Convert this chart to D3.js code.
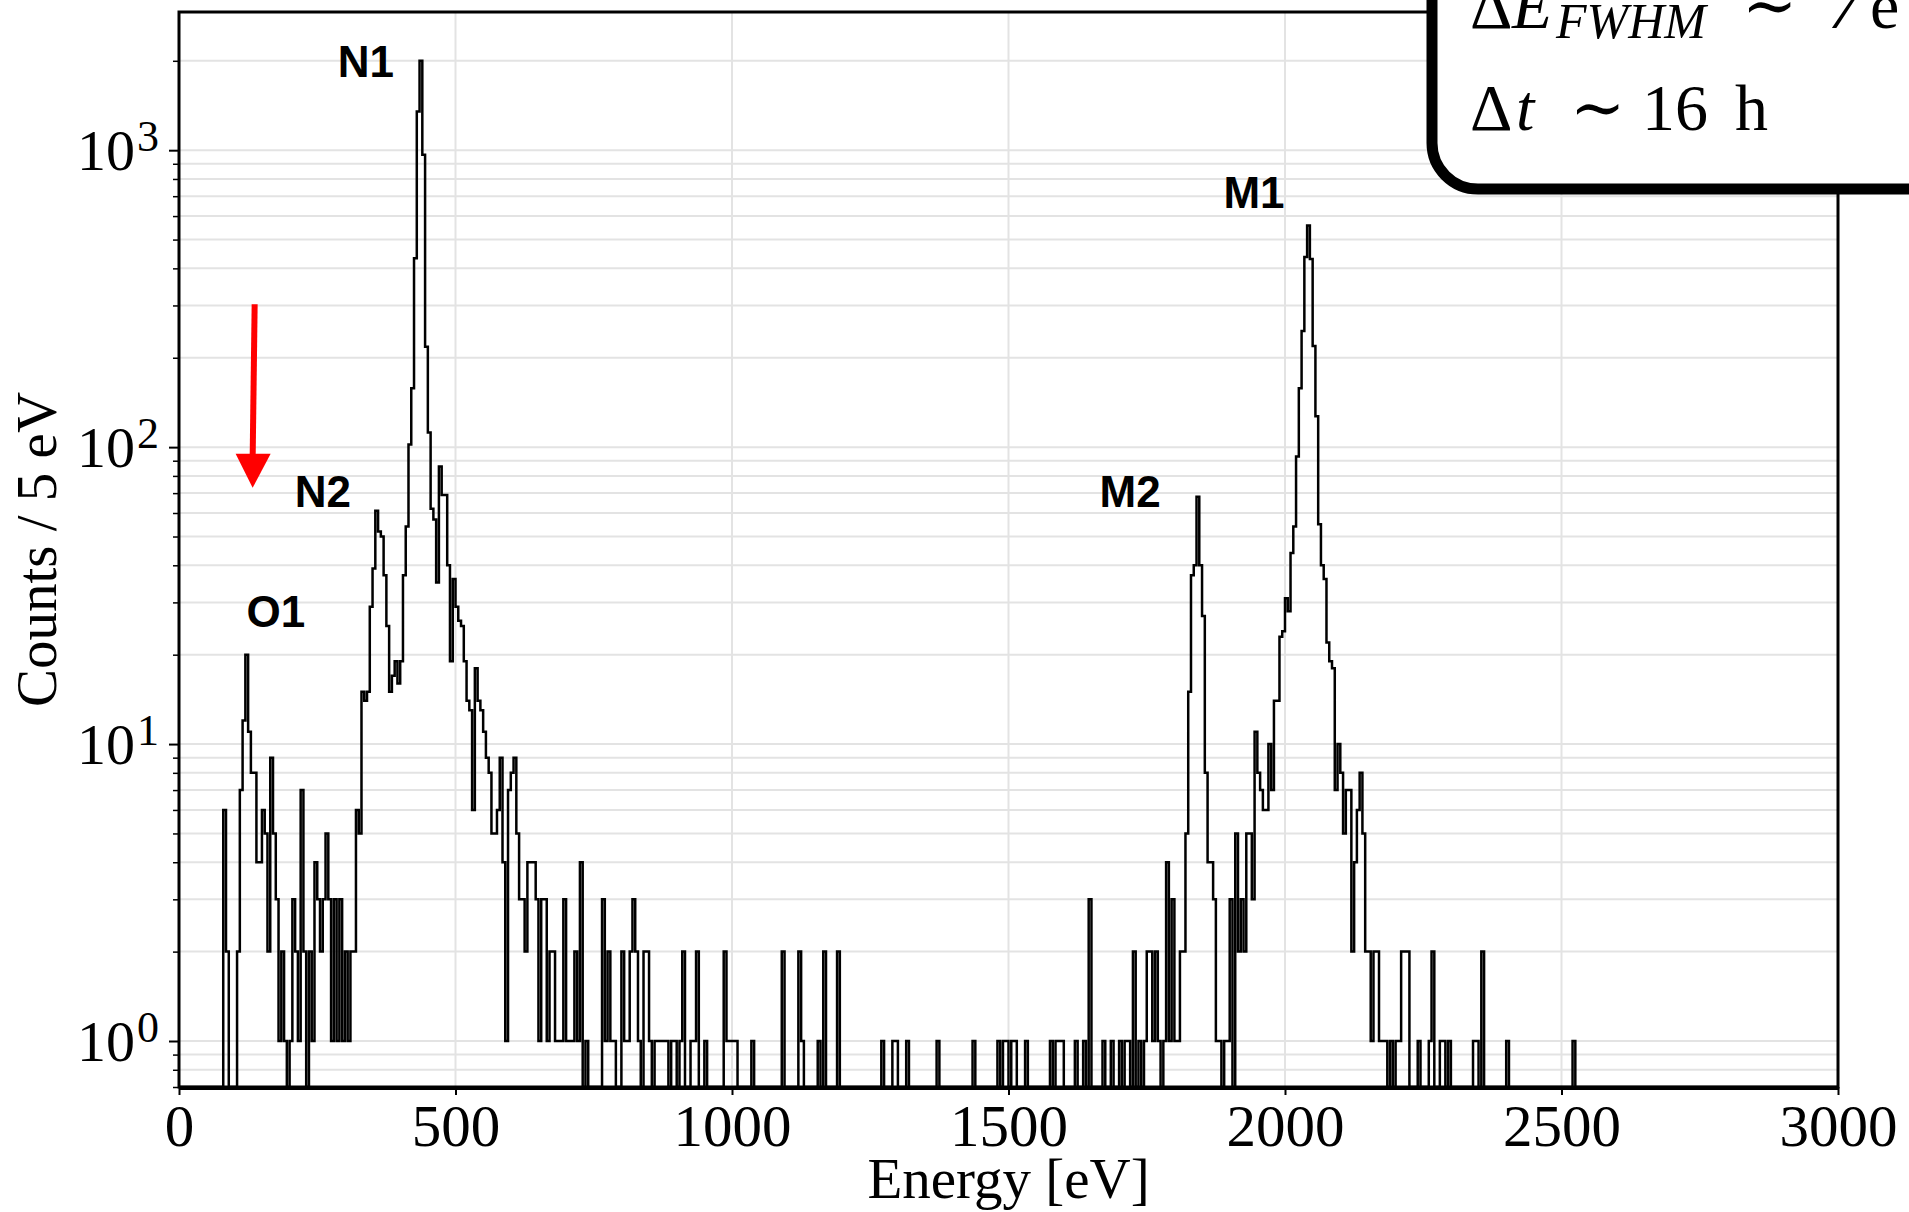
<!DOCTYPE html>
<html>
<head>
<meta charset="utf-8">
<script src="https://cdn.jsdelivr.net/npm/d3@7"></script>
<style>
  body { margin: 0; background: #fff; }
  svg { display: block; }
  .serif { font-family: "Liberation Serif", "DejaVu Serif", serif; fill: #000; }
  .peak { font-family: "Liberation Sans", Arial, sans-serif; font-weight: bold; font-size: 44px; fill: #000; }
</style>
</head>
<body>
<script>
// histogram: 5 eV bins from 0 to 3000 eV
var binWidth = 5;
var counts = [
  0,0,0,0,0,0,0,0,0,0,0,0,0,0,0,0,6,2,0,0,            // 0
  0,2,7,12,20,11,8,8,4,4,6,5,2,9,5,3,1,2,1,0,         // 100
  1,3,2,1,7,2,0,2,1,4,3,2,3,5,3,1,3,1,3,1,            // 200
  2,1,2,2,6,5,15,14,15,29,39,61,52,50,37,25,15,17,19,16,   // 300
  19,37,54,102,158,433,1350,2000,965,218,112,62,57,35,86,69,69,40,19,36, // 400
  29,26,25,19,14,13,6,18,14,13,11,9,8,5,5,6,9,4,1,7,  // 500
  8,9,5,3,3,2,4,4,4,3,1,3,3,1,2,2,1,1,1,3,            // 600
  1,1,1,2,1,4,0,1,0,0,0,0,0,3,1,2,1,1,0,0,            // 700
  2,1,1,2,3,2,1,0,2,2,1,0,1,1,1,1,1,0,1,1,            // 800
  0,1,2,0,0,1,1,2,0,0,1,0,0,0,0,0,0,2,1,1,            // 900
  1,1,0,0,0,0,0,1,0,0,0,0,0,0,0,0,0,0,2,0,            // 1000
  0,0,0,0,2,1,0,0,0,0,0,1,0,2,0,0,0,0,2,0,            // 1100
  0,0,0,0,0,0,0,0,0,0,0,0,0,0,1,0,0,0,1,1,            // 1200
  0,0,0,1,0,0,0,0,0,0,0,0,0,0,1,0,0,0,0,0,            // 1300
  0,0,0,0,0,0,0,1,0,0,0,0,0,0,0,0,1,0,1,1,            // 1400
  0,1,1,0,0,0,1,0,0,0,0,0,0,0,0,1,0,1,1,1,            // 1500
  0,0,0,0,1,0,0,1,0,3,0,0,0,0,1,0,0,1,0,0,            // 1600
  1,0,1,1,0,2,0,1,0,1,2,2,1,2,1,0,1,4,1,3,            // 1700
  1,1,2,2,5,15,37,40,68,40,27,8,4,4,3,1,1,0,1,1,      // 1800
  3,0,5,2,3,2,5,5,3,11,8,7,6,6,10,7,14,14,23,24,      // 1900
  31,28,44,54,93,158,246,437,558,430,219,127,55,40,36,22,19,18,7,10, // 2000
  8,5,7,7,2,4,6,8,5,2,2,1,2,2,1,1,1,0,1,0,            // 2100
  1,1,2,2,2,0,0,0,1,0,0,0,1,2,0,0,1,1,0,1,            // 2200
  0,0,0,0,0,0,0,0,1,1,0,2,0,0,0,0,0,0,0,0,            // 2300
  1,0,0,0,0,0,0,0,0,0,0,0,0,0,0,0,0,0,0,0,            // 2400
  0,0,0,0,1,0,0,0,0,0,0,0,0,0,0,0,0,0,0,0,            // 2500
  0,0,0,0,0,0,0,0,0,0,0,0,0,0,0,0,0,0,0,0,            // 2600
  0,0,0,0,0,0,0,0,0,0,0,0,0,0,0,0,0,0,0,0,            // 2700
  0,0,0,0,0,0,0,0,0,0,0,0,0,0,0,0,0,0,0,0,            // 2800
  0,0,0,0,0,0,0,0,0,0,0,0,0,0,0,0,0,0,0,0             // 2900
];

var xTicks = [0, 500, 1000, 1500, 2000, 2500, 3000];
var yMajor = [1, 10, 100, 1000];
var yMinor = [0.7, 0.8, 0.9, 2, 3, 4, 5, 6, 7, 8, 9, 20, 30, 40, 50, 60, 70, 80, 90,
              200, 300, 400, 500, 600, 700, 800, 900, 2000];

var peakNames = ["O1", "N2", "N1", "M2", "M1"];
var peakEnergy = [175, 260, 338, 1720, 1944];
var peakCount = [24.8, 63, 1760, 63, 638];

var arrowEnergy = 135;
var arrowFrom = 303, arrowTo = 73;

var W = 1909, H = 1212;
var pLeft = 179, pRight = 1838, pTop = 12, pBottom = 1087;

var svg = d3.select("body").append("svg")
    .attr("width", W)
    .attr("height", H);

var x = d3.scaleLinear().domain([0, 3000]).range([pLeft, pRight]);
var y = d3.scaleLog().domain([0.7, 2920]).range([pBottom, pTop]);

svg.append("defs").append("clipPath").attr("id", "plot")
  .append("rect")
    .attr("x", pLeft).attr("y", pTop)
    .attr("width", pRight - pLeft).attr("height", pBottom - pTop);

// grid
svg.append("g").selectAll("line")
    .data(xTicks.slice(1, -1))
  .enter().append("line")
    .attr("x1", d => x(d)).attr("x2", d => x(d))
    .attr("y1", pTop).attr("y2", pBottom)
    .style("stroke", "#e3e3e3").style("stroke-width", 2);

svg.append("g").selectAll("line")
    .data(yMajor.concat(yMinor))
  .enter().append("line")
    .attr("x1", pLeft).attr("x2", pRight)
    .attr("y1", d => y(d)).attr("y2", d => y(d))
    .style("stroke", "#e3e3e3").style("stroke-width", 2);

// step histogram
var steps = counts.map((c, i) => ({e: i * binWidth, c: c}));
steps.push({e: counts.length * binWidth, c: counts[counts.length - 1]});

var line = d3.line()
    .x(d => x(d.e))
    .y(d => d.c > 0 ? y(d.c) : pBottom)
    .curve(d3.curveStepAfter);

svg.append("path")
    .attr("clip-path", "url(#plot)")
    .attr("d", line(steps))
    .style("fill", "none")
    .style("stroke", "#000")
    .style("stroke-width", 2.5);

// axes
var xAxis = svg.append("g")
    .attr("transform", "translate(0," + pBottom + ")")
    .call(d3.axisBottom(x).tickValues(xTicks).tickSize(8).tickPadding(9).tickFormat(d3.format("d")));
xAxis.select(".domain").remove();
xAxis.selectAll(".tick line").style("stroke-width", 2);
xAxis.selectAll("text")
    .attr("class", "serif")
    .style("font-size", "59px");

var yMin = svg.append("g")
    .attr("transform", "translate(" + pLeft + ",0)")
    .call(d3.axisLeft(y).tickValues(yMinor).tickSize(6).tickFormat(""));
yMin.select(".domain").remove();
yMin.selectAll(".tick line").style("stroke-width", 1.5);

var yAx = svg.append("g")
    .attr("transform", "translate(" + pLeft + ",0)")
    .call(d3.axisLeft(y).tickValues(yMajor).tickSize(10).tickFormat(""));
yAx.select(".domain").remove();
yAx.selectAll(".tick line").style("stroke-width", 2);

yMajor.forEach(function(v) {
  var t = svg.append("text")
      .attr("class", "serif")
      .attr("x", 159)
      .attr("y", y(v) + 20)
      .attr("text-anchor", "end")
      .style("font-size", "58px");
  t.append("tspan").text("10");
  t.append("tspan").attr("dx", 2).attr("dy", -19).style("font-size", "44px").text(Math.round(Math.log10(v)));
});

// spines
svg.append("rect")
    .attr("x", pLeft).attr("y", pTop)
    .attr("width", pRight - pLeft).attr("height", pBottom - pTop)
    .style("fill", "none").style("stroke", "#000").style("stroke-width", 3);
svg.append("line")
    .attr("x1", pLeft).attr("x2", pRight)
    .attr("y1", pBottom + 1).attr("y2", pBottom + 1)
    .style("stroke", "#000").style("stroke-width", 4);

// axis labels
svg.append("text")
    .attr("class", "serif")
    .attr("x", (pLeft + pRight) / 2)
    .attr("y", 1198)
    .attr("text-anchor", "middle")
    .style("font-size", "57px")
    .text("Energy [eV]");

svg.append("text")
    .attr("class", "serif")
    .attr("transform", "translate(56," + (pTop + pBottom) / 2 + ") rotate(-90)")
    .attr("text-anchor", "middle")
    .style("font-size", "57px")
    .text("Counts / 5 eV");

// peak labels
svg.append("g").selectAll("text")
    .data(peakNames)
  .enter().append("text")
    .attr("class", "peak")
    .attr("x", (d, i) => x(peakEnergy[i]))
    .attr("y", (d, i) => y(peakCount[i]))
    .attr("text-anchor", "middle")
    .text(d => d);

// red arrow
var ax = x(arrowEnergy);
var ay0 = y(arrowFrom), ay1 = y(arrowTo);
svg.append("line")
    .attr("x1", ax + 1).attr("y1", ay0)
    .attr("x2", ax - 1).attr("y2", ay1 - 30)
    .style("stroke", "#ff0000").style("stroke-width", 6);
svg.append("path")
    .attr("d", "M" + (ax - 18) + "," + (ay1 - 34) + "L" + (ax + 17) + "," + (ay1 - 34) + "L" + (ax - 1) + "," + ay1 + "Z")
    .style("fill", "#ff0000");

// info box (cut off at the figure edge)
svg.append("rect")
    .attr("x", 1432).attr("y", -120)
    .attr("width", 600).attr("height", 309)
    .attr("rx", 46).attr("ry", 46)
    .style("fill", "#fff").style("stroke", "#000").style("stroke-width", 11);

var l1 = svg.append("text").attr("class", "serif").attr("y", 28).style("font-size", "66px");
l1.append("tspan").attr("x", 1470).text("\u0394");
l1.append("tspan").attr("x", 1512).style("font-style", "italic").text("E");
l1.append("tspan").attr("x", 1556).attr("dy", 10).style("font-style", "italic").style("font-size", "50px").text("FWHM");
l1.append("tspan").attr("x", 1742).attr("dy", -10).text("\u223C");
l1.append("tspan").attr("x", 1828).style("font-style", "italic").text("7");
l1.append("tspan").attr("x", 1870).text("eV");

var l2 = svg.append("text").attr("class", "serif").attr("y", 130).style("font-size", "66px");
l2.append("tspan").attr("x", 1470).text("\u0394");
l2.append("tspan").attr("x", 1516).style("font-style", "italic").text("t");
l2.append("tspan").attr("x", 1570).text("\u223C");
l2.append("tspan").attr("x", 1642).text("16");
l2.append("tspan").attr("x", 1735).text("h");
</script>
</body>
</html>
